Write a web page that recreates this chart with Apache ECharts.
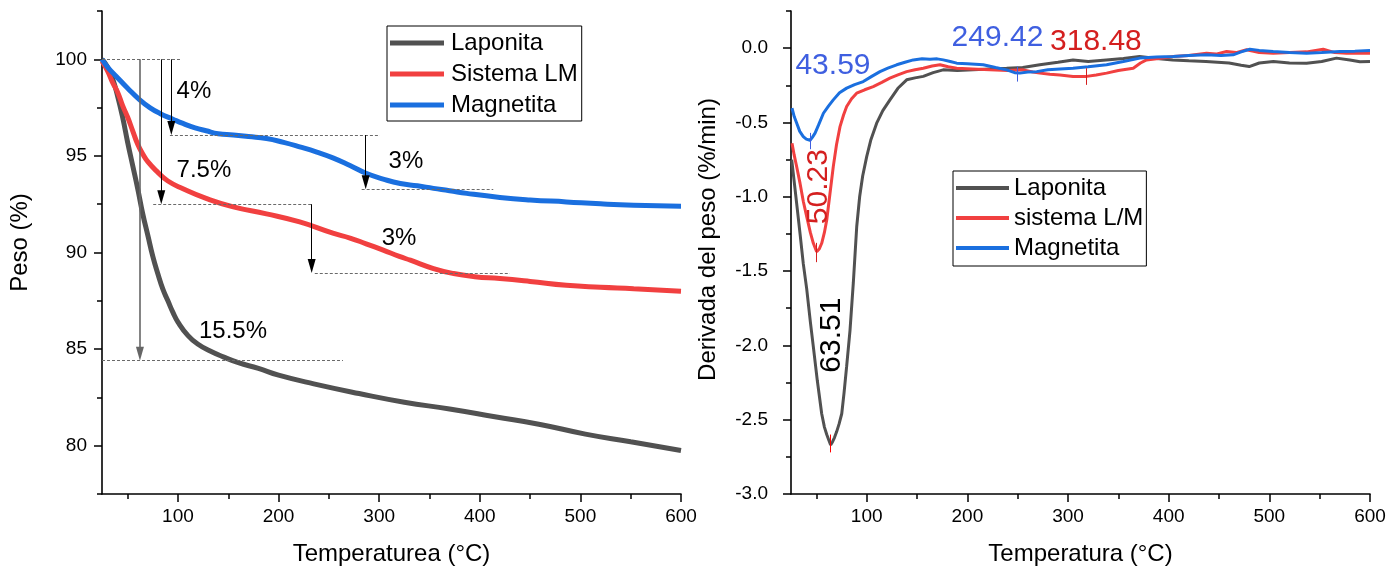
<!DOCTYPE html>
<html><head><meta charset="utf-8">
<script src="https://cdn.jsdelivr.net/npm/echarts@6/dist/echarts.min.js"></script>
<style>html,body{margin:0;padding:0;background:#fff}#c{width:1398px;height:571px}</style>
</head><body><div id="c"></div>
<script>
// ---------------- DATA ----------------
// Left: TGA curves [T (°C), weight (%)]
const tgaLaponita = [[24.5,100],[30,99.6],[35,99.0],[40,98.1],[45,97.0],[50,95.7],[55,94.5],[60,93.3],[65,92.0],[70,90.9],[75,89.8],[80,88.9],[85,88.1],[90,87.5],[95,86.9],[100,86.4],[110,85.7],[120,85.25],[132,84.9],[145,84.6],[160,84.3],[180,84.0],[200,83.65],[235,83.2],[280,82.7],[325,82.25],[370,81.9],[415,81.5],[460,81.1],[505,80.6],[550,80.2],[600,79.75]];
const tgaSistemaLM = [[24.5,99.9],[30,99.4],[35,98.8],[40,98.3],[45,97.6],[50,97.0],[55,96.3],[60,95.6],[65,95.1],[70,94.7],[80,94.15],[90,93.7],[105,93.3],[128,92.8],[155,92.36],[188,92.0],[221,91.58],[254,91.0],[271,90.75],[287,90.45],[304,90.12],[320,89.8],[331,89.6],[354,89.17],[374,88.91],[395,88.75],[420,88.65],[450,88.5],[486,88.3],[520,88.2],[553,88.13],[600,88.0]];
const tgaMagnetita = [[24.5,100],[30,99.6],[39,99.1],[50,98.5],[62,97.9],[72,97.5],[82,97.2],[95,96.9],[105,96.68],[117,96.45],[128,96.3],[140,96.15],[155,96.08],[170,96.0],[188,95.9],[205,95.7],[221,95.47],[238,95.2],[254,94.9],[271,94.5],[287,94.1],[304,93.8],[321,93.57],[338,93.45],[354,93.32],[370,93.2],[387,93.06],[420,92.85],[450,92.72],[486,92.62],[520,92.52],[553,92.45],[600,92.4]];

// Right: DTG curves [T (°C), derivative (%/min)]
const dtgLaponita = [[25.5,-0.75],[28,-0.9],[31,-1.08],[33.8,-1.25],[37,-1.45],[40.4,-1.62],[44,-1.84],[47,-2.01],[51,-2.24],[55.3,-2.46],[58,-2.55],[60.3,-2.60],[62.5,-2.64],[64.2,-2.67],[66,-2.65],[68,-2.62],[70.2,-2.58],[72.5,-2.53],[75.2,-2.46],[77.5,-2.32],[80.1,-2.14],[83.4,-1.90],[86.7,-1.58],[90.1,-1.20],[93,-1.0],[96,-0.86],[100,-0.73],[104,-0.62],[109.9,-0.505],[116,-0.42],[123.1,-0.348],[131,-0.27],[139.7,-0.213],[148,-0.2],[156.2,-0.19],[166,-0.165],[176,-0.146],[190,-0.15],[205.9,-0.146],[222,-0.14],[239,-0.135],[255,-0.13],[272,-0.112],[290,-0.095],[305,-0.079],[320,-0.09],[338,-0.079],[355,-0.07],[371,-0.056],[388,-0.07],[404,-0.079],[420,-0.085],[437,-0.09],[460,-0.1],[472,-0.115],[480,-0.124],[490,-0.1],[504,-0.09],[520,-0.1],[537,-0.101],[552,-0.09],[566.7,-0.067],[580,-0.08],[590,-0.092],[600,-0.09]];
const dtgSistemaLM = [[25.8,-0.64],[28,-0.72],[30.5,-0.8],[33.8,-0.91],[37,-1.03],[40.4,-1.134],[44,-1.24],[47,-1.313],[50.3,-1.37],[53,-1.35],[55.3,-1.313],[58,-1.24],[60.3,-1.156],[63.5,-0.98],[66.8,-0.797],[70,-0.65],[73.5,-0.528],[77,-0.45],[80.1,-0.393],[85,-0.34],[90,-0.303],[98,-0.28],[106.5,-0.259],[115,-0.23],[123,-0.202],[131,-0.18],[139.7,-0.158],[148,-0.145],[156.2,-0.135],[165,-0.12],[172.8,-0.112],[181,-0.125],[189.4,-0.135],[205,-0.14],[222.4,-0.146],[240,-0.15],[255.5,-0.146],[265,-0.16],[272,-0.168],[282,-0.175],[292,-0.18],[305,-0.19],[318.5,-0.19],[328,-0.18],[338.3,-0.168],[350,-0.15],[364.8,-0.135],[372,-0.1],[378,-0.079],[390,-0.07],[404.5,-0.056],[420,-0.05],[437.6,-0.034],[447,-0.04],[457.5,-0.023],[467,-0.03],[477.4,-0.011],[490,-0.03],[503.8,-0.034],[520,-0.03],[537,-0.025],[553.5,-0.007],[565,-0.03],[576.7,-0.034],[590,-0.035],[600,-0.034]];
const dtgMagnetita = [[25.8,-0.404],[28,-0.46],[30.5,-0.505],[33.5,-0.56],[37,-0.595],[40,-0.612],[43.7,-0.62],[46,-0.6],[48.7,-0.572],[52,-0.52],[57,-0.438],[62,-0.39],[66.8,-0.348],[73,-0.3],[80.1,-0.269],[88,-0.245],[96.6,-0.225],[105,-0.19],[113.2,-0.158],[121,-0.135],[129.8,-0.112],[138,-0.095],[146.3,-0.079],[155,-0.072],[162.9,-0.074],[170,-0.072],[176.1,-0.079],[183,-0.09],[189.4,-0.101],[200,-0.105],[215.8,-0.112],[228,-0.13],[239,-0.146],[247,-0.165],[252.2,-0.168],[260,-0.16],[268.8,-0.158],[280,-0.145],[292,-0.14],[305,-0.135],[320,-0.125],[338.3,-0.112],[355,-0.09],[371.4,-0.067],[388,-0.06],[404.5,-0.056],[420,-0.05],[437.6,-0.045],[452,-0.05],[464,-0.045],[472,-0.025],[480.6,-0.007],[490,-0.015],[503.8,-0.023],[520,-0.03],[537,-0.034],[552,-0.03],[570,-0.023],[585,-0.02],[600,-0.016]];

// Series / legend names
const tgaNames = ['Laponita','Sistema LM','Magnetita'];
const dtgNames = ['Laponita','sistema L/M','Magnetita'];

// Tick values
const xMajorTicks = [100,200,300,400,500,600];
const xMinorTicks = [50,150,250,350,450,550];
const yTgaMajor = [80,85,90,95,100];
const yTgaMinor = [77.5,82.5,87.5,92.5,97.5,102.5];
const yDtgMajor = [-3,-2.5,-2,-1.5,-1,-0.5,0];
const yDtgMinor = [-2.75,-2.25,-1.75,-1.25,-0.75,-0.25,0.25];

// TGA annotations (data units)
const tgaNoteText = ['4%','7.5%','15.5%','3%','3%'];
const tgaNoteX = [115.9,125.8,154.7,326.6,319.7];
const tgaNoteY = [98.36,94.26,85.93,94.73,90.74];
const dashFrom = [[24.5,100],[92,96.08],[282.6,93.28],[75.4,92.5],[236,88.94],[24.5,84.4]];
const dashTo   = [[102,100],[300.8,96.08],[413.4,93.28],[234.2,92.5],[430,88.94],[264,84.4]];
const arrowX    = [62.2,83.4,93.4,232.9,286.6];
const arrowFrom = [100,100,100,92.5,96.08];
const arrowTo   = [84.4,92.5,96.08,88.94,93.28];

// DTG peak annotations
const peakText = ['43.59','249.42','318.48','50.23','63.51'];
const peakLabelX = [66.5,229.9,327.7,52.0,65.2];
const peakLabelY = [-0.117,0.069,0.042,-0.932,-1.931];
const peakT      = [43.59,50.23,63.51,249.42,318.48];
const peakTop    = [-0.57,-1.31,-2.60,-0.124,-0.135];
const peakBottom = [-0.68,-1.44,-2.72,-0.225,-0.247];

// ---------------- STYLE ----------------
const FONT = "'Liberation Sans', Arial, Helvetica, sans-serif";
const C_GRAY = '#515151', C_RED = '#F14040', C_BLUE = '#1A6FDF';
const TXT_BLUE = '#3F5FE0', TXT_RED = '#D41F1F';
const peakLabelColor = [TXT_BLUE, TXT_BLUE, TXT_RED, TXT_RED, '#000'];
const peakLabelRot = [0,0,0,90,90];
const peakTickColor = [TXT_BLUE, TXT_RED, '#ff0000', TXT_BLUE, TXT_RED];
const arrowColor = ['#666','#000','#000','#000','#000'];
const GRID_H = 483;
const ARROW_W = 8, ARROW_L = 14;
const tgaPxPerUnit = GRID_H / (102.5 - 77.5);

function xAxes(grid, min, name) {
  return [{
    gridIndex: grid, type: 'value', min: min, max: 600, position: 'bottom',
    name: name, nameLocation: 'middle', nameGap: 48,
    nameTextStyle: {fontFamily: FONT, fontSize: 24, color: '#000'},
    axisLine: {show: true, onZero: false, lineStyle: {color: '#000', width: 1.6}},
    axisTick: {show: true, length: 8, customValues: xMajorTicks, lineStyle: {color: '#000', width: 1.5}},
    axisLabel: {show: true, customValues: xMajorTicks, fontFamily: FONT, fontSize: 19, color: '#000', margin: 13},
    splitLine: {show: false}
  }, {
    gridIndex: grid, type: 'value', min: min, max: 600, position: 'bottom',
    axisLine: {show: false, onZero: false},
    axisTick: {show: true, length: 5, customValues: xMinorTicks, lineStyle: {color: '#000', width: 1.5}},
    axisLabel: {show: false}, splitLine: {show: false}
  }];
}
function yAxes(grid, min, max, major, minor, name, gap, margin, fmt, shift) {
  return [{
    gridIndex: grid, type: 'value', min: min, max: max, position: 'left',
    name: name, nameLocation: 'middle', nameGap: gap,
    nameTextStyle: {fontFamily: FONT, fontSize: 24, color: '#000', padding: [0,0,0,shift]},
    axisLine: {show: true, onZero: false, lineStyle: {color: '#000', width: 1.6}},
    axisTick: {show: true, length: 8, customValues: major, lineStyle: {color: '#000', width: 1.5}},
    axisLabel: {show: true, customValues: major, fontFamily: FONT, fontSize: 19, color: '#000', margin: margin, formatter: fmt},
    splitLine: {show: false}
  }, {
    gridIndex: grid, type: 'value', min: min, max: max, position: 'left',
    axisLine: {show: false, onZero: false},
    axisTick: {show: true, length: 5, customValues: minor, lineStyle: {color: '#000', width: 1.5}},
    axisLabel: {show: false}, splitLine: {show: false}
  }];
}

function lineSeries(name, data, xi, yi, color, width, smooth) {
  return {
    type: 'line', name: name, data: data, xAxisIndex: xi, yAxisIndex: yi,
    showSymbol: false, symbol: 'none', smooth: smooth,
    lineStyle: {color: color, width: width}, itemStyle: {color: color},
    silent: true, z: 3
  };
}
function noteLabel(text, color, size, rot) {
  return {show: true, formatter: text, position: [0, 0], rotate: rot, fontFamily: FONT, fontSize: size,
          color: color, opacity: 1, align: 'center', verticalAlign: 'middle', textBorderWidth: 0};
}

const tgaMarkLines = [];
dashFrom.forEach((p, i) => {
  tgaMarkLines.push([
    {coord: p, symbol: 'none', lineStyle: {color: '#6a6a6a', width: 1, type: [3, 2]}},
    {coord: dashTo[i], symbol: 'none'}
  ]);
});
arrowX.forEach((x, i) => {
  // arrow symbol is centred on the end point: move it back by half its length so its tip sits on the target
  const yEnd = arrowTo[i] + (ARROW_L / 2) / tgaPxPerUnit;
  tgaMarkLines.push([
    {coord: [x, arrowFrom[i]], symbol: 'none', lineStyle: {color: arrowColor[i], width: i === 0 ? 1.6 : 1, type: 'solid'}},
    {coord: [x, yEnd], symbol: 'triangle', symbolSize: [ARROW_W, ARROW_L], itemStyle: {color: '#000'}}
  ]);
});

const dtgMarkLines = peakT.map((t, i) => [
  {coord: [t, peakTop[i]], symbol: 'none', lineStyle: {color: peakTickColor[i], width: 1, type: 'solid'}},
  {coord: [t, peakBottom[i]], symbol: 'none'}
]);

function noteSeries(name, xi, data, lines) {
  return {
    type: 'scatter', name: name, xAxisIndex: xi, yAxisIndex: xi, symbolSize: 0, silent: true, z: 5,
    itemStyle: {opacity: 1}, emphasis: {disabled: true},
    data: data,
    markLine: {silent: true, animation: false, symbol: 'none', label: {show: false}, emphasis: {disabled: true}, data: lines}
  };
}

const option = {
  animation: false,
  backgroundColor: '#fff',
  textStyle: {fontFamily: FONT},
  grid: [
    {left: 102, top: 11, width: 579, height: GRID_H},
    {left: 791, top: 11, width: 579, height: GRID_H}
  ],
  xAxis: [].concat(xAxes(0, 24.5, 'Temperaturea (°C)'), xAxes(1, 24.8, 'Temperatura (°C)')),
  yAxis: [].concat(
    yAxes(0, 77.5, 102.5, yTgaMajor, yTgaMinor, 'Peso (%)', 70, 15, v => String(v), 20),
    yAxes(1, -3, 0.25, yDtgMajor, yDtgMinor, 'Derivada del peso (%/min)', 71, 23, v => v.toFixed(1), 26)
  ),
  legend: [{
    data: tgaNames, orient: 'vertical', left: 387, top: 26, selectedMode: false,
    icon: 'rect', itemWidth: 54, itemHeight: 5, itemGap: 5,
    padding: [4, 4, 3, 3], borderColor: '#000', borderWidth: 1, backgroundColor: '#fff',
    textStyle: {fontFamily: FONT, fontSize: 24, color: '#000', lineHeight: 26, padding: [0, 0, 0, 2]}
  }, {
    data: dtgNames, orient: 'vertical', left: 953, top: 171, selectedMode: false,
    icon: 'rect', itemWidth: 53, itemHeight: 4, itemGap: 4,
    padding: [4, 3, 5, 3], borderColor: '#000', borderWidth: 1, backgroundColor: '#fff',
    textStyle: {fontFamily: FONT, fontSize: 24, color: '#000', lineHeight: 26}
  }],
  series: [
    lineSeries(tgaNames[0], tgaLaponita, 0, 0, C_GRAY, 5, true),
    lineSeries(tgaNames[1], tgaSistemaLM, 0, 0, C_RED, 5, true),
    lineSeries(tgaNames[2], tgaMagnetita, 0, 0, C_BLUE, 5, true),
    noteSeries('tgaNotes', 0,
      tgaNoteText.map((t, i) => ({value: [tgaNoteX[i], tgaNoteY[i]], label: noteLabel(t, '#000', 24, 0)})),
      tgaMarkLines),
    lineSeries(dtgNames[0], dtgLaponita, 2, 2, C_GRAY, 3, false),
    lineSeries(dtgNames[1], dtgSistemaLM, 2, 2, C_RED, 3, false),
    lineSeries(dtgNames[2], dtgMagnetita, 2, 2, C_BLUE, 3, false),
    noteSeries('dtgNotes', 2,
      peakText.map((t, i) => ({value: [peakLabelX[i], peakLabelY[i]], label: noteLabel(t, peakLabelColor[i], 30, peakLabelRot[i])})),
      dtgMarkLines)
  ]
};

const chart = echarts.init(document.getElementById('c'), null, {renderer: 'canvas'});
chart.setOption(option);
</script></body></html>
